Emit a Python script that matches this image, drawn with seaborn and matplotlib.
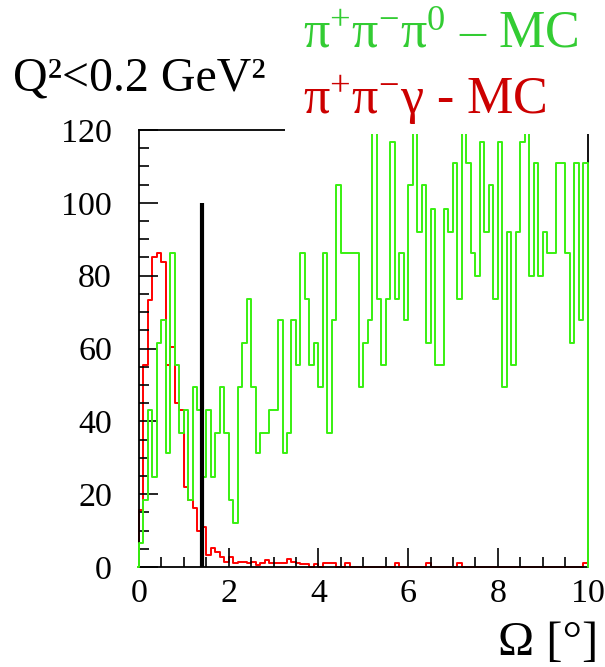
import numpy as np
import pandas as pd
import matplotlib
matplotlib.use("Agg")
import matplotlib.pyplot as plt
import seaborn as sns
from matplotlib.patches import Rectangle
from matplotlib.ticker import MultipleLocator
from matplotlib.transforms import Bbox, TransformedBbox

# ---------------- data ----------------
bin_width = 0.1
bin_centers = [round(0.05 + 0.1 * i, 3) for i in range(100)]

green_values = [
    6.5, 18.4, 43.1, 24.8, 61.4, 67.8, 31.2, 86.1, 55.4, 36.7,
    43.1, 18.4, 49.5, 43.1, 24.8, 43.1, 24.8, 36.7, 49.5, 36.7,
    18.4, 12.0, 49.5, 61.4, 73.7, 49.5, 31.2, 36.7, 36.7, 43.1,
    43.1, 67.8, 31.2, 36.7, 67.8, 55.4, 86.1, 73.7, 55.4, 61.4,
    49.5, 86.1, 36.7, 67.8, 104.8, 86.1, 86.1, 86.1, 86.1, 49.5,
    61.4, 67.8, 130.0, 73.7, 55.4, 73.7, 116.7, 73.7, 86.1, 67.8,
    104.8, 130.0, 92.0, 104.8, 61.4, 98.4, 55.4, 55.4, 98.4, 92.0,
    110.9, 73.7, 130.0, 110.9, 86.1, 80.0, 116.7, 92.0, 104.8, 73.7,
    116.7, 49.5, 92.0, 55.4, 92.0, 116.7, 130.0, 80.0, 110.9, 80.0,
    92.0, 86.1, 86.1, 110.9, 110.9, 86.1, 61.4, 110.9, 67.8, 110.9,
]

red_values = [
    15.6, 55.4, 73.3, 85.2, 86.3, 83.8, 55.4, 60.5, 44.9, 43.1,
    22.0, 18.4, 16.1, 10.0, 11.0, 3.3, 5.1, 4.2, 2.8, 1.5,
    2.8, 1.0, 1.5, 1.5, 1.0, 1.5, 0.5, 1.0, 1.9, 1.0,
    1.0, 1.0, 1.0, 2.1, 1.5, 1.0, 0.8, 0.8, 0.0, 0.8,
    0.0, 1.0, 1.0, 1.0, 0.0, 0.0, 1.0, 0.0, 0.0, 0.0,
    0.0, 0.0, 0.0, 0.0, 0.0, 0.0, 0.0, 1.0, 0.0, 0.0,
    0.0, 0.0, 0.0, 0.0, 1.0, 0.0, 0.0, 0.0, 0.0, 0.0,
    0.0, 1.0, 0.0, 0.0, 0.0, 0.0, 0.0, 0.0, 0.0, 0.0,
    0.0, 0.0, 0.0, 0.0, 0.0, 0.0, 0.0, 0.0, 0.0, 0.0,
    0.0, 0.0, 0.0, 0.0, 0.0, 0.0, 0.0, 0.0, 0.0, 1.0,
]

cut_value = 1.4
cut_height = 100

x_ticks = [0, 2, 4, 6, 8, 10]
y_ticks = [0, 20, 40, 60, 80, 100, 120]

label_q2 = "Q²<0.2 GeV²"
label_green = r"$\mathrm{\pi^{+}\pi^{-}\pi^{0}}$ – MC"
label_red = r"$\mathrm{\pi^{+}\pi^{-}\gamma}$ - MC"
label_x = "Ω [°]"

# ---------------- styling ----------------
sns.set_theme(style="ticks")
plt.rcParams["font.family"] = ["Liberation Serif", "DejaVu Serif"]
plt.rcParams["mathtext.fontset"] = "custom"
plt.rcParams["mathtext.rm"] = "Liberation Serif"
plt.rcParams["mathtext.it"] = "Liberation Serif:italic"
plt.rcParams["mathtext.bf"] = "Liberation Serif:bold"
# tick appearance set up front, so the ticks are created with it
plt.rcParams.update({
    "axes.axisbelow": False,
    "xtick.direction": "in", "ytick.direction": "in",
    "xtick.bottom": True, "xtick.top": False,
    "ytick.left": True, "ytick.right": False,
    "xtick.major.size": 14, "ytick.major.size": 14,
    "xtick.minor.size": 7.2, "ytick.minor.size": 7.2,
    "xtick.major.width": 1.2, "ytick.major.width": 1.2,
    "xtick.minor.width": 1.2, "ytick.minor.width": 1.2,
    "xtick.color": "black", "ytick.color": "black",
    "xtick.labelcolor": "black", "ytick.labelcolor": "black",
    "xtick.labelsize": 24.5, "ytick.labelsize": 24.5,
    "xtick.major.pad": 8, "ytick.major.pad": 19.5,
    "axes.edgecolor": "black", "axes.linewidth": 1.3,
})

W, H = 605, 667
fig = plt.figure(figsize=(W / 100, H / 100), dpi=100)

ax_left, ax_right, ax_top, ax_bottom = 139, 587.5, 130, 567
ax_w, ax_h = ax_right - ax_left, ax_bottom - ax_top
ax = fig.add_axes([ax_left / W, 1 - ax_bottom / H, ax_w / W, ax_h / H])
ax.set_facecolor("white")
ax.set_axisbelow(False)

df = pd.DataFrame({"omega": bin_centers, "green": green_values, "red": red_values})

sns.histplot(data=df, x="omega", weights="green", binwidth=bin_width,
             binrange=(-bin_width, 10 + bin_width),
             element="step", fill=False, color="#38f010", linewidth=1.4, ax=ax)
gline = ax.lines[-1]
gline.set_zorder(2.6)
gline.set_clip_box(TransformedBbox(Bbox([[-0.004, -0.004], [1.004, 1.0]]), ax.transAxes))

sns.histplot(data=df, x="omega", weights="red", binwidth=bin_width,
             binrange=(-bin_width, 10 + bin_width),
             element="step", fill=False, color="#ff0000", linewidth=1.4, ax=ax)
rline = ax.lines[-1]
rline.set_zorder(2.4)
rline.set_clip_box(TransformedBbox(Bbox([[-0.004, -0.004], [1.004, 1.0]]), ax.transAxes))

ax.vlines(cut_value, 0, cut_height, color="black", linewidth=3.0, zorder=4)

ax.set_xlim(0, 10)
ax.set_ylim(0, 120)
ax.set_xticks(x_ticks)
ax.set_yticks(y_ticks)
ax.set_xticklabels([str(t) for t in x_ticks])
ax.set_yticklabels([str(t) for t in y_ticks])
ax.xaxis.set_minor_locator(MultipleLocator(0.5))
ax.yaxis.set_minor_locator(MultipleLocator(5))
ax.set_xlabel("")
ax.set_ylabel("")

for s in ax.spines.values():
    s.set_visible(True)
    s.set_color("black")
    s.set_linewidth(1.3)

# white legend box hiding the upper-right part of the frame
ax.add_patch(Rectangle(((285 - ax_left) / ax_w, 1 - 4 / ax_h),
                       (W - 285) / ax_w, (ax_top + 4) / ax_h,
                       transform=ax.transAxes, facecolor="white",
                       edgecolor="none", clip_on=False, zorder=5))

fig.text(13 / W, 1 - 90 / H, label_q2, fontsize=34.5, color="black",
         ha="left", va="baseline")
fig.text(303 / W, 1 - 47.5 / H, label_green, fontsize=37.5, color="#33cc33",
         ha="left", va="baseline")
fig.text(303 / W, 1 - 113.5 / H, label_red, fontsize=37.5, color="#cc0000",
         ha="left", va="baseline")
fig.text(598 / W, 1 - 655 / H, label_x, fontsize=35, color="black",
         ha="right", va="baseline")

fig.savefig("out.png", dpi=100, facecolor="white")
